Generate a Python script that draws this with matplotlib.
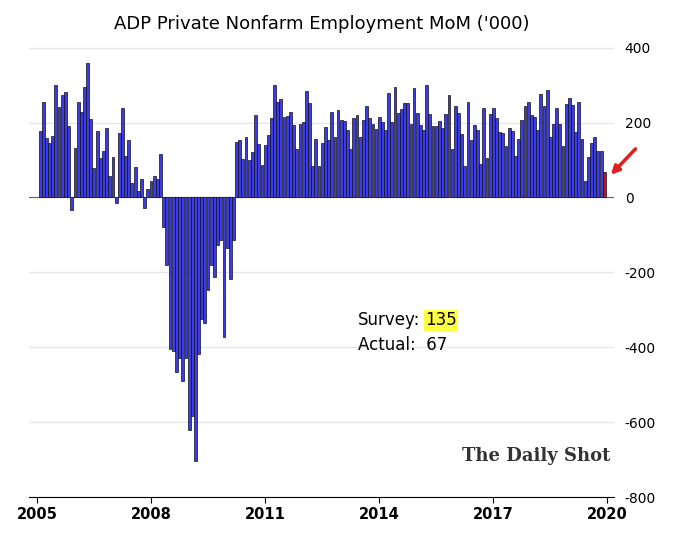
import matplotlib
matplotlib.use('Agg')
import matplotlib.pyplot as plt
import pandas as pd

plt.rcParams['axes.unicode_minus'] = False

values = [178, 254, 158, 146, 164, 300, 242, 274, 281, 191, -33, 133,
          254, 227, 296, 360, 209, 79, 176, 106, 124, 185, 57, 108,
          -15, 171, 240, 110, 152, 39, 81, 16, 48, -27, 23, 43,
          58, 49, 117, -80, -181, -405, -410, -466, -430, -490, -430, -620,
          -585, -705, -419, -325, -335, -246, -180, -212, -127, -114, -374, -136,
          -219, -114, 148, 152, 103, 160, 100, 120, 221, 143, 87, 139,
          166, 213, 300, 254, 264, 214, 217, 229, 193, 128, 197, 202,
          283, 251, 85, 155, 83, 145, 187, 152, 229, 161, 233, 208,
          204, 181, 128, 211, 220, 160, 206, 245, 211, 197, 182, 215,
          202, 181, 278, 202, 296, 226, 235, 253, 253, 197, 293, 226,
          193, 179, 300, 222, 190, 190, 205, 186, 224, 274, 129, 244,
          226, 170, 84, 256, 154, 193, 181, 90, 238, 104, 224, 240,
          211, 175, 173, 137, 186, 176, 111, 157, 208, 244, 254, 220,
          215, 179, 277, 243, 286, 161, 197, 240, 195, 137, 250, 265,
          246, 175, 256, 157, 45, 107, 145, 161, 125, 125, 68]
dates = pd.date_range(end='2019-12-01', periods=len(values), freq='MS')
colors = ['#3c3ce6'] * (len(values) - 1) + ['#cc1111']
year_ticks = pd.to_datetime(['2005-01-01', '2008-01-01', '2011-01-01', '2014-01-01', '2017-01-01', '2020-01-01'])
year_labels = ['2005', '2008', '2011', '2014', '2017', '2020']

fig = plt.figure(figsize=(6.88, 5.42), dpi=100)
ax = fig.add_axes([0.042, 0.083, 0.85, 0.843])
ax.bar(dates, values, width=27, color=colors, edgecolor='#111111', linewidth=0.5, zorder=3)
ax.set_ylim(-800, 420)
ax.set_xlim(pd.Timestamp('2004-10-15'), pd.Timestamp('2020-03-01'))
ax.yaxis.tick_right()
ax.set_yticks([-800, -600, -400, -200, 0, 200, 400])
ax.tick_params(axis='y', length=0, labelsize=10, pad=8)
ax.set_xticks(year_ticks)
ax.set_xticklabels(year_labels, fontweight='bold', fontsize=10.5)
ax.tick_params(axis='x', length=4, direction='out')
ax.grid(axis='y', color='#e6e6e6', linewidth=1, zorder=0)
for s in ['top', 'right', 'left']:
    ax.spines[s].set_visible(False)
ax.axhline(0, color='#666666', linewidth=0.8, zorder=2)

ax.set_title("ADP Private Nonfarm Employment MoM ('000)", fontsize=13, pad=8)
ax.text(pd.Timestamp('2013-06-10'), -328, 'Survey:', fontsize=12, va='center')
ax.text(pd.Timestamp('2015-03-15'), -328, '135', fontsize=12, va='center',
        bbox=dict(facecolor='#ffff44', edgecolor='none', pad=1))
ax.text(pd.Timestamp('2013-06-10'), -395, 'Actual:  67', fontsize=12, va='center')
ax.text(pd.Timestamp('2020-01-25'), -705, 'The Daily Shot', fontsize=13, ha='right',
        family='DejaVu Serif', fontweight='bold', color='#333333')
ax.annotate('', xy=(pd.Timestamp('2020-01-15'), 55), xytext=(pd.Timestamp('2020-10-15'), 135),
            arrowprops=dict(arrowstyle='-|>', color='#e02020', lw=2.5, mutation_scale=12),
            annotation_clip=False)

fig.savefig('out.png')
